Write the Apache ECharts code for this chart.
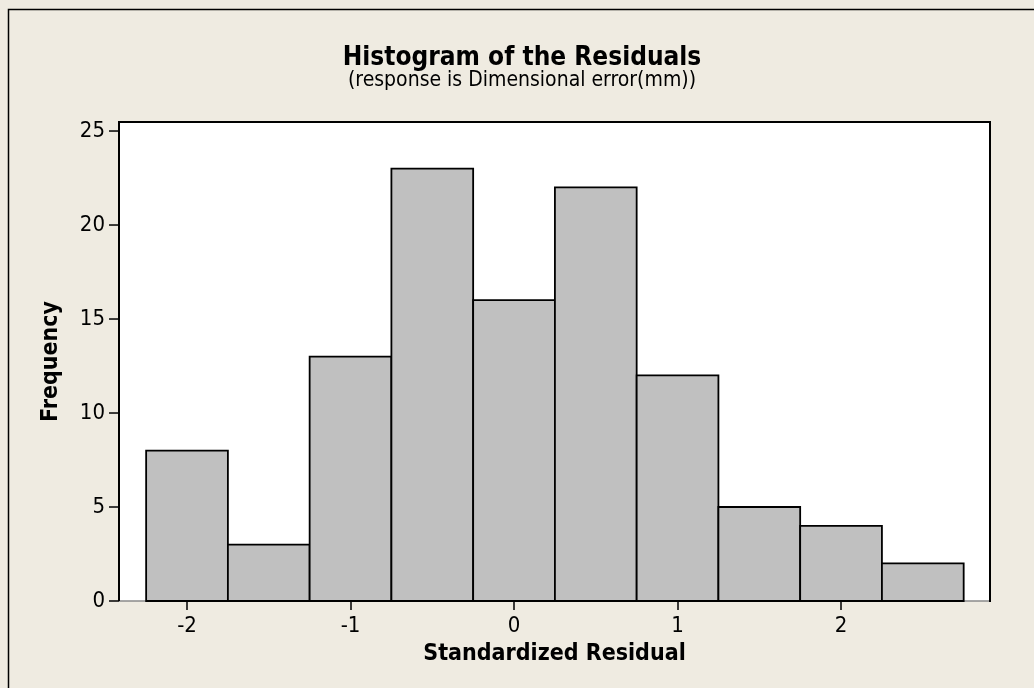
<!DOCTYPE html>
<html>
<head>
<meta charset="utf-8">
<title>Histogram of the Residuals</title>
<script src="https://cdn.jsdelivr.net/npm/echarts@6/dist/echarts.min.js"></script>
<style>
  html, body { margin: 0; padding: 0; background: #EFEBE1; }
  #chart { width: 1034px; height: 688px; }
</style>
</head>
<body>
<div id="chart"></div>
<script>
// Histogram bins: left edge of each bin and its count
const binWidth = 0.5;
const binLefts = [-2.25, -1.75, -1.25, -0.75, -0.25, 0.25, 0.75, 1.25, 1.75, 2.25];
const counts = [8, 3, 13, 23, 16, 22, 12, 5, 4, 2];

// Tick positions
const xTicks = [-2, -1, 0, 1, 2];
const yTicks = [0, 5, 10, 15, 20, 25];

// Axis extents
const X_MIN = -2.416, X_MAX = 2.911;
const Y_MIN = 0, Y_MAX = 25.48;

// Data region box (pixels)
const G = { left: 119, top: 122, right: 990, bottom: 601 };

const FONT = 'Tahoma, "DejaVu Sans Condensed", "DejaVu Sans", sans-serif';

const chart = echarts.init(document.getElementById('chart'), null, { renderer: 'canvas' });

const barData = binLefts.map((l, i) => [l, l + binWidth, counts[i]]);

chart.setOption({
  backgroundColor: '#EFEBE1',
  animation: false,
  title: [{
    text: 'Histogram of the Residuals',
    left: 517, textAlign: 'center', top: 40,
    textStyle: { fontFamily: FONT, fontSize: 26, fontWeight: 'bold', color: '#000' }
  }, {
    text: '(response is Dimensional error(mm))',
    left: 517, textAlign: 'center', top: 65,
    textStyle: { fontFamily: FONT, fontSize: 21, fontWeight: 'normal', color: '#000' }
  }],
  graphic: [{
    type: 'rect',
    shape: { x: 8.5, y: 9.5, width: 1100, height: 800 },
    style: { fill: 'none', stroke: '#000', lineWidth: 1.5 },
    silent: true
  }, {
    // data region frame: bottom edge is a thin grey rule, others black
    type: 'line',
    shape: { x1: G.left, y1: G.bottom, x2: G.right, y2: G.bottom },
    style: { stroke: '#8a8a8a', lineWidth: 1.5 },
    silent: true, z: 1
  }, {
    type: 'polyline',
    shape: { points: [[G.left, G.bottom], [G.left, G.top], [G.right, G.top], [G.right, G.bottom + 1]] },
    style: { fill: 'none', stroke: '#000', lineWidth: 2 },
    silent: true, z: 1
  }],
  grid: {
    left: G.left, top: G.top, right: 1034 - G.right, bottom: 688 - G.bottom,
    show: true, backgroundColor: '#fff', borderWidth: 0,
    containLabel: false
  },
  xAxis: {
    type: 'value',
    min: X_MIN, max: X_MAX,
    name: 'Standardized Residual',
    nameLocation: 'middle',
    nameGap: 42,
    nameTextStyle: { fontFamily: FONT, fontSize: 23, fontWeight: 'bold', color: '#000' },
    axisLine: { show: false },
    splitLine: { show: false },
    axisTick: { show: true, length: 9, inside: false, customValues: xTicks, lineStyle: { color: '#000', width: 1.5 } },
    axisLabel: { customValues: xTicks, margin: 14, fontFamily: FONT, fontSize: 22, color: '#000' }
  },
  yAxis: {
    type: 'value',
    min: Y_MIN, max: Y_MAX,
    name: 'Frequency',
    nameLocation: 'middle',
    nameGap: 56,
    nameTextStyle: { fontFamily: FONT, fontSize: 23, fontWeight: 'bold', color: '#000' },
    axisLine: { show: false },
    splitLine: { show: false },
    axisTick: { show: false },
    axisLabel: { customValues: yTicks, margin: 14, fontFamily: FONT, fontSize: 22, color: '#000' }
  },
  series: [{
    type: 'custom',
    data: barData,
    encode: { x: [0, 1], y: 2 },
    z: 3,
    renderItem: function (params, api) {
      const p0 = api.coord([api.value(0), api.value(2)]);
      const p1 = api.coord([api.value(1), 0]);
      return {
        type: 'rect',
        shape: { x: p0[0], y: p0[1], width: p1[0] - p0[0], height: p1[1] - p0[1] },
        style: { fill: '#C0C0C0', stroke: '#000', lineWidth: 1.8 }
      };
    }
  }, {
    // outward tick marks on the frequency axis
    type: 'custom',
    clip: false,
    silent: true,
    data: yTicks.map(v => [X_MIN, v]),
    encode: { x: 0, y: 1 },
    renderItem: function (params, api) {
      const p = api.coord([api.value(0), api.value(1)]);
      return {
        type: 'line',
        shape: { x1: p[0] - 10, y1: p[1], x2: p[0], y2: p[1] },
        style: { stroke: '#000', lineWidth: 1.5 }
      };
    }
  }]
});
</script>
</body>
</html>
